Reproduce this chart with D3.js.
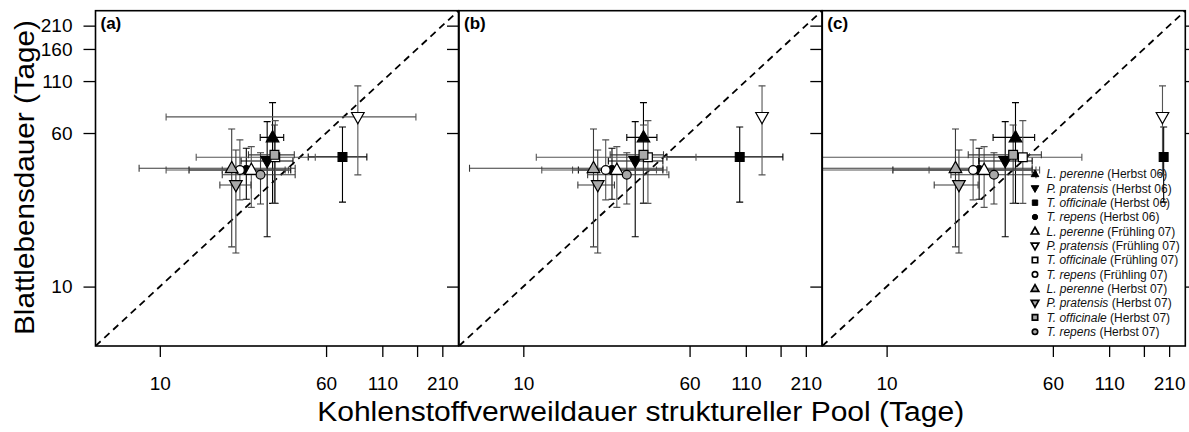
<!DOCTYPE html>
<html><head><meta charset="utf-8">
<script src="https://cdn.jsdelivr.net/npm/d3@7"></script>
<style>body{margin:0;background:#fff}svg{display:block;font-family:"Liberation Sans",Arial,Helvetica,sans-serif}</style>
</head><body>
<svg id="chart" width="1189" height="432"></svg>
<script>
// ---------- data ----------
const panelLabels = ["(a)", "(b)", "(c)"];
const speciesNames = ["L. perenne", "P. pratensis", "T. officinale", "T. repens",
                      "L. perenne", "P. pratensis", "T. officinale", "T. repens",
                      "L. perenne", "P. pratensis", "T. officinale", "T. repens"];
const seasonNames = ["(Herbst 06)", "(Herbst 06)", "(Herbst 06)", "(Herbst 06)",
                     "(Frühling 07)", "(Frühling 07)", "(Frühling 07)", "(Frühling 07)",
                     "(Herbst 07)", "(Herbst 07)", "(Herbst 07)", "(Herbst 07)"];
const xTickValues = [10, 60, 110, 160, 210];
const xTickLabels = ["10", "60", "110", "", "210"];
const yTickValues = [10, 60, 110, 160, 210];
const yTickLabels = ["10", "60", "110", "160", "210"];
const axisDomain = [5, 250];

// leaf lifespan (y), shared by all panels
const leafLife   = [57.0, 43.3, 45.4, 39.0, 39.0, 72.4, 45.2, 39.0, 39.8, 32.7, 46.5, 36.9];
const leafLifeLo = [26.4, 17.9, 26.8, 27.7, 25.2, 36.8, 26.4, 27.5, 15.9, 14.8, 26.4, 26.2];
const leafLifeHi = [85.5, 68.5, 64.4, 50.2, 51.2, 104, 69.3, 55.4, 62.9, 49.2, 65.9, 47.7];

// carbon residence time (x), panel a
const poolA   = [33.7, 31.8, 71.6, 25.4, 26.8, 84.5, 34.7, 23.7, 21.7, 22.7, 34.4, 29.6];
const poolALo = [29.5, 24.0, 49.5, 13.7, 19.6, 10.7, 14.8, 10.7, 8.0, 19.1, 26.0, 19.6];
const poolAHi = [38.0, 42.0, 93.1, 41.0, 40.0, 158, 53.4, 38.6, 43.0, 26.7, 42.6, 43.0];
// panel b
const poolB   = [36.5, 33.4, 103, 26.0, 27.4, 131, 38.3, 24.3, 21.3, 22.3, 36.5, 30.5];
const poolBLo = [30.5, 25.0, 47.0, 18.1, 17.0, null, 11.5, 12.2, 5.6, 18.0, 25.5, 20.0];
const poolBHi = [42.2, 45.0, 164, 45.0, 47.0, null, 64.3, 42.0, 45.0, 26.7, 45.3, 48.0];
// panel c
const poolC   = [40.1, 35.9, 198, 27.1, 28.6, 195.5, 43.4, 25.4, 21.0, 21.8, 39.1, 31.8];
const poolCLo = [31.5, 27.0, null, 10.7, 15.8, null, 3.0, 4.0, 3.0, 16.7, 24.1, 20.0];
const poolCHi = [49.3, 48.0, null, 48.0, 52.0, null, 82.0, 50.0, 48.0, 26.8, 53.0, 50.0];

const xTitle = "Kohlenstoffverweildauer struktureller Pool (Tage)";
const yTitle = "Blattlebensdauer (Tage)";

// ---------- layout ----------
const panelX = [95.5, 459, 822.3];
const panelW = 363;
const plotTop = 10.7, plotBottom = 346;
const svg = d3.select("#chart");

const yScale = d3.scaleLog().domain(axisDomain).range([plotBottom, plotTop]);
const panelsX = [[poolA, poolALo, poolAHi], [poolB, poolBLo, poolBHi], [poolC, poolCLo, poolCHi]];

const fillFor = i => ["#000000", "#ffffff", "#a9a9a9"][Math.floor(i / 4)];
const barColor = i => ["#000000", "#555555", "#3a3a3a"][Math.floor(i / 4)];
// kind: 0 up-triangle, 1 down-triangle, 2 square, 3 circle ; t = half width of triangle, q = half side / radius
function markerPath(kind, t, q) {
  const hUp = t * 1.08, hDn = t * 0.70;
  if (kind === 0) return `M0,${-hUp}L${t},${hDn}L${-t},${hDn}Z`;
  if (kind === 1) return `M0,${hUp}L${t},${-hDn}L${-t},${-hDn}Z`;
  if (kind === 2) return `M${-q},${-q}H${q}V${q}H${-q}Z`;
  return `M${q},0A${q},${q} 0 1,1 ${-q},0A${q},${q} 0 1,1 ${q},0Z`;
}

panelsX.forEach((arrs, p) => {
  const [xs, xlo, xhi] = arrs;
  const x0 = panelX[p];
  const xScale = d3.scaleLog().domain(axisDomain).range([x0, x0 + panelW]);
  const clipId = "clip" + p;
  svg.append("clipPath").attr("id", clipId).append("rect")
    .attr("x", x0).attr("y", plotTop).attr("width", panelW).attr("height", plotBottom - plotTop);
  const g = svg.append("g").attr("clip-path", `url(#${clipId})`);

  // 1:1 line
  g.append("line")
    .attr("x1", xScale(axisDomain[0])).attr("y1", yScale(axisDomain[0]))
    .attr("x2", xScale(axisDomain[1])).attr("y2", yScale(axisDomain[1]))
    .attr("stroke", "#000").attr("stroke-width", 1.8).attr("stroke-dasharray", "7,5");

  const cap = 3.5;
  // error bars
  xs.forEach((xv, i) => {
    const cx = xScale(xv), cy = yScale(leafLife[i]);
    const col = barColor(i);
    const eb = g.append("g").attr("stroke", col).attr("stroke-width", 1.1).attr("fill", "none");
    const y1 = yScale(leafLifeHi[i]), y2 = yScale(leafLifeLo[i]);
    eb.append("line").attr("x1", cx).attr("x2", cx).attr("y1", y1).attr("y2", y2);
    eb.append("line").attr("x1", cx - cap).attr("x2", cx + cap).attr("y1", y1).attr("y2", y1);
    eb.append("line").attr("x1", cx - cap).attr("x2", cx + cap).attr("y1", y2).attr("y2", y2);
    if (xlo[i] != null) {
      const a = xScale(xlo[i]), b = xScale(xhi[i]);
      eb.append("line").attr("x1", a).attr("x2", b).attr("y1", cy).attr("y2", cy);
      eb.append("line").attr("x1", a).attr("x2", a).attr("y1", cy - cap).attr("y2", cy + cap);
      eb.append("line").attr("x1", b).attr("x2", b).attr("y1", cy - cap).attr("y2", cy + cap);
    }
  });
  // points
  xs.forEach((xv, i) => {
    g.append("path")
      .attr("d", markerPath(i % 4, 6.3, 4.4))
      .attr("transform", `translate(${xScale(xv)},${yScale(leafLife[i])})`)
      .attr("fill", fillFor(i)).attr("stroke", "#000").attr("stroke-width", 1.2);
  });

  // frame
  svg.append("rect").attr("x", x0).attr("y", plotTop).attr("width", panelW).attr("height", plotBottom - plotTop)
    .attr("fill", "none").attr("stroke", "#000").attr("stroke-width", 1.6);

  // x axis
  const xAxis = d3.axisBottom(xScale).tickValues(xTickValues)
    .tickFormat((d, k) => xTickLabels[k]).tickSize(11).tickPadding(20);
  const xa = svg.append("g").attr("transform", `translate(0,${plotBottom})`).call(xAxis);
  xa.select(".domain").remove();
  xa.selectAll("line").attr("stroke", "#000").attr("stroke-width", 1.3);
  xa.attr("font-family", null);
  xa.selectAll("text").attr("font-size", 19).attr("fill", "#000");

  // y axis ticks
  const yAxis = d3.axisLeft(yScale).tickValues(yTickValues)
    .tickFormat((d, k) => p === 0 ? yTickLabels[k] : "").tickSize(12).tickPadding(11);
  const ya = svg.append("g").attr("transform", `translate(${x0},0)`).call(yAxis);
  ya.select(".domain").remove();
  ya.selectAll("line").attr("stroke", "#000").attr("stroke-width", 1.3);
  ya.attr("font-family", null);
  ya.selectAll("text").attr("font-size", 19).attr("fill", "#000");

  // panel label
  svg.append("text").attr("x", x0 + 5).attr("y", plotTop + 18)
    .attr("font-size", 17).attr("font-weight", "bold").text(panelLabels[p]);

  if (p === 2) {
    const ra = d3.axisRight(yScale).tickValues(yTickValues).tickFormat("").tickSize(8);
    const r = svg.append("g").attr("transform", `translate(${x0 + panelW},0)`).call(ra);
    r.select(".domain").remove();
    r.selectAll("line").attr("stroke", "#000").attr("stroke-width", 1.3);

    // legend
    const lg = svg.append("g");
    speciesNames.forEach((sp, i) => {
      const ly = 174 + i * 14.34;
      lg.append("path").attr("d", markerPath(i % 4, 3.8, 2.7))
        .attr("transform", `translate(1035,${ly})`)
        .attr("fill", fillFor(i)).attr("stroke", "#000").attr("stroke-width", i < 4 ? 1 : 1.7);
      const t = lg.append("text").attr("x", 1046.5).attr("y", ly + 4.4).attr("font-size", 12).attr("fill", "#111");
      t.append("tspan").attr("font-style", "italic").text(sp);
      t.append("tspan").text(" " + seasonNames[i]);
    });
  }
});

// axis titles
svg.append("text").attr("x", 640.7).attr("y", 420.5).attr("text-anchor", "middle")
  .attr("font-size", 27).attr("textLength", 647).attr("lengthAdjust", "spacingAndGlyphs").text(xTitle);
svg.append("text").attr("transform", "translate(33.5,177.5) rotate(-90)").attr("text-anchor", "middle")
  .attr("font-size", 28).attr("textLength", 315).attr("lengthAdjust", "spacingAndGlyphs").text(yTitle);
</script>
</body></html>
